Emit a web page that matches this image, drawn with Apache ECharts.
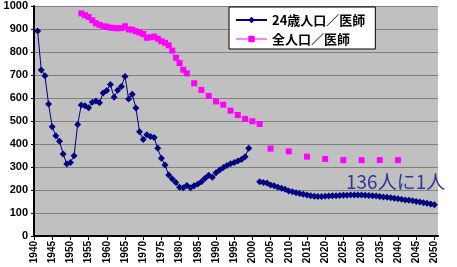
<!DOCTYPE html>
<html>
<head>
<meta charset="utf-8">
<script src="https://cdn.jsdelivr.net/npm/echarts@6/dist/echarts.min.js"></script>
<style>
html, body {margin: 0; padding: 0; background: #fff;}
#chart_1 {width: 457px; height: 267px;}
</style>
</head>
<body>
<div id="chart_1"></div>
<script>
// 24歳人口／医師 : 1941-1999 (yearly), then 2002-2050 (projection)
var youngStart1 = 1941;
var youngValues1 = [891, 722, 697, 574, 475, 436, 412, 357, 313, 320,
    349, 485, 570, 566, 558, 581, 587, 579, 622, 633,
    659, 603, 634, 650, 694, 596, 616, 556, 453, 420,
    440, 433, 428, 381, 338, 309, 265, 248, 233, 212,
    210, 220, 210, 219, 226, 236, 251, 264, 255, 275,
    287, 298, 307, 314, 320, 326, 333, 345, 381];
var youngStart2 = 2002;
var youngValues2 = [236, 233, 230, 222, 218, 212, 208, 203, 196,
    192, 188, 185, 181, 178, 175, 173, 172, 172, 173,
    174, 175, 175, 176, 177, 177, 178, 178, 178, 178,
    177, 176, 175, 174, 172, 170, 168, 166, 164, 162,
    160, 157, 155, 153, 150, 148, 145, 142, 139, 136];

// 全人口／医師
var allYears = [1953, 1954, 1955, 1956, 1957, 1958, 1959, 1960, 1961, 1962,
    1963, 1964, 1965, 1966, 1967, 1968, 1969, 1970, 1971, 1972,
    1973, 1974, 1975, 1976, 1977, 1978, 1979, 1980, 1981, 1982,
    1984, 1986, 1988, 1990, 1992, 1994, 1996, 1998, 2000, 2002,
    2005, 2010, 2015, 2020, 2025, 2030, 2035, 2040];
var allValues = [968, 960, 952, 938, 925, 918, 912, 910, 906, 904,
    903, 904, 912, 898, 897, 890, 885, 878, 862, 864,
    867, 858, 847, 840, 829, 806, 775, 752, 723, 707,
    664, 635, 609, 585, 571, 545, 526, 509, 499, 487,
    380, 368, 345, 335, 330, 330, 330, 330];

var seriesNames = ['24歳人口／医師', '全人口／医師'];
var noteText = '136人に1人';

var youngData = [];
for (var i = 0; i < youngValues1.length; i++) {
    youngData.push([youngStart1 + i, youngValues1[i]]);
}
youngData.push([2000, null]);
for (var j = 0; j < youngValues2.length; j++) {
    youngData.push([youngStart2 + j, youngValues2[j]]);
}
var allData = [];
for (var k = 0; k < allYears.length; k++) {
    allData.push([allYears[k], allValues[k]]);
}

var myChart = echarts.init(document.getElementById('chart_1'));
var option = {
    backgroundColor: '#ffffff',
    animation: false,
    grid: {
        left: 34,
        top: 6,
        right: 19,
        bottom: 31,
        show: true,
        backgroundColor: '#c0c0c0',
        borderWidth: 0
    },
    legend: {
        orient: 'vertical',
        left: 229,
        top: 7,
        padding: [6, 10, 3, 6],
        itemGap: 5,
        itemWidth: 31,
        itemHeight: 8,
        backgroundColor: '#ffffff',
        borderColor: '#000000',
        borderWidth: 1,
        borderRadius: 0,
        textStyle: {
            fontFamily: 'Noto Sans CJK JP',
            fontWeight: 'bold',
            fontSize: 13,
            lineHeight: 14,
            color: '#000000'
        },
        data: [
            {name: seriesNames[0]},
            {name: seriesNames[1], lineStyle: {color: '#ff00ff', width: 1, opacity: 1}}
        ]
    },
    xAxis: {
        type: 'value',
        min: 1940,
        max: 2051,
        interval: 5,
        splitLine: {show: false},
        axisLine: {lineStyle: {color: '#000000', width: 2}},
        axisTick: {length: 4, lineStyle: {color: '#000000', width: 1}},
        axisLabel: {
            rotate: 90,
            margin: 5,
            fontFamily: 'Liberation Sans',
            fontWeight: 'bold',
            fontSize: 10,
            color: '#000000',
            showMaxLabel: false,
            formatter: function (v) {
                return v % 5 === 0 ? String(v) : '';
            }
        }
    },
    yAxis: {
        type: 'value',
        min: 0,
        max: 1000,
        interval: 100,
        axisLine: {show: true, lineStyle: {color: '#000000', width: 2}},
        axisTick: {show: true, length: 3, lineStyle: {color: '#000000'}},
        splitLine: {lineStyle: {color: '#808080', width: 1}},
        axisLabel: {
            margin: 6,
            fontFamily: 'Liberation Sans',
            fontWeight: 'bold',
            fontSize: 11,
            color: '#000000',
            formatter: function (v) {
                return String(v);
            }
        }
    },
    graphic: [{
        type: 'text',
        left: 346,
        top: 172,
        style: {
            text: noteText,
            fontFamily: 'Noto Sans CJK JP',
            fontSize: 19,
            fill: '#333399'
        }
    }],
    series: [
        {
            name: seriesNames[0],
            type: 'line',
            data: youngData,
            connectNulls: false,
            symbol: 'diamond',
            symbolSize: 7,
            itemStyle: {color: '#000080'},
            lineStyle: {color: '#000080', width: 1},
            emphasis: {disabled: true}
        },
        {
            name: seriesNames[1],
            type: 'line',
            data: allData,
            symbol: 'rect',
            symbolSize: 6,
            itemStyle: {color: '#ff00ff'},
            lineStyle: {opacity: 0},
            emphasis: {disabled: true},
            z: 3
        }
    ]
};

myChart.setOption(option);
</script>
</body>
</html>
